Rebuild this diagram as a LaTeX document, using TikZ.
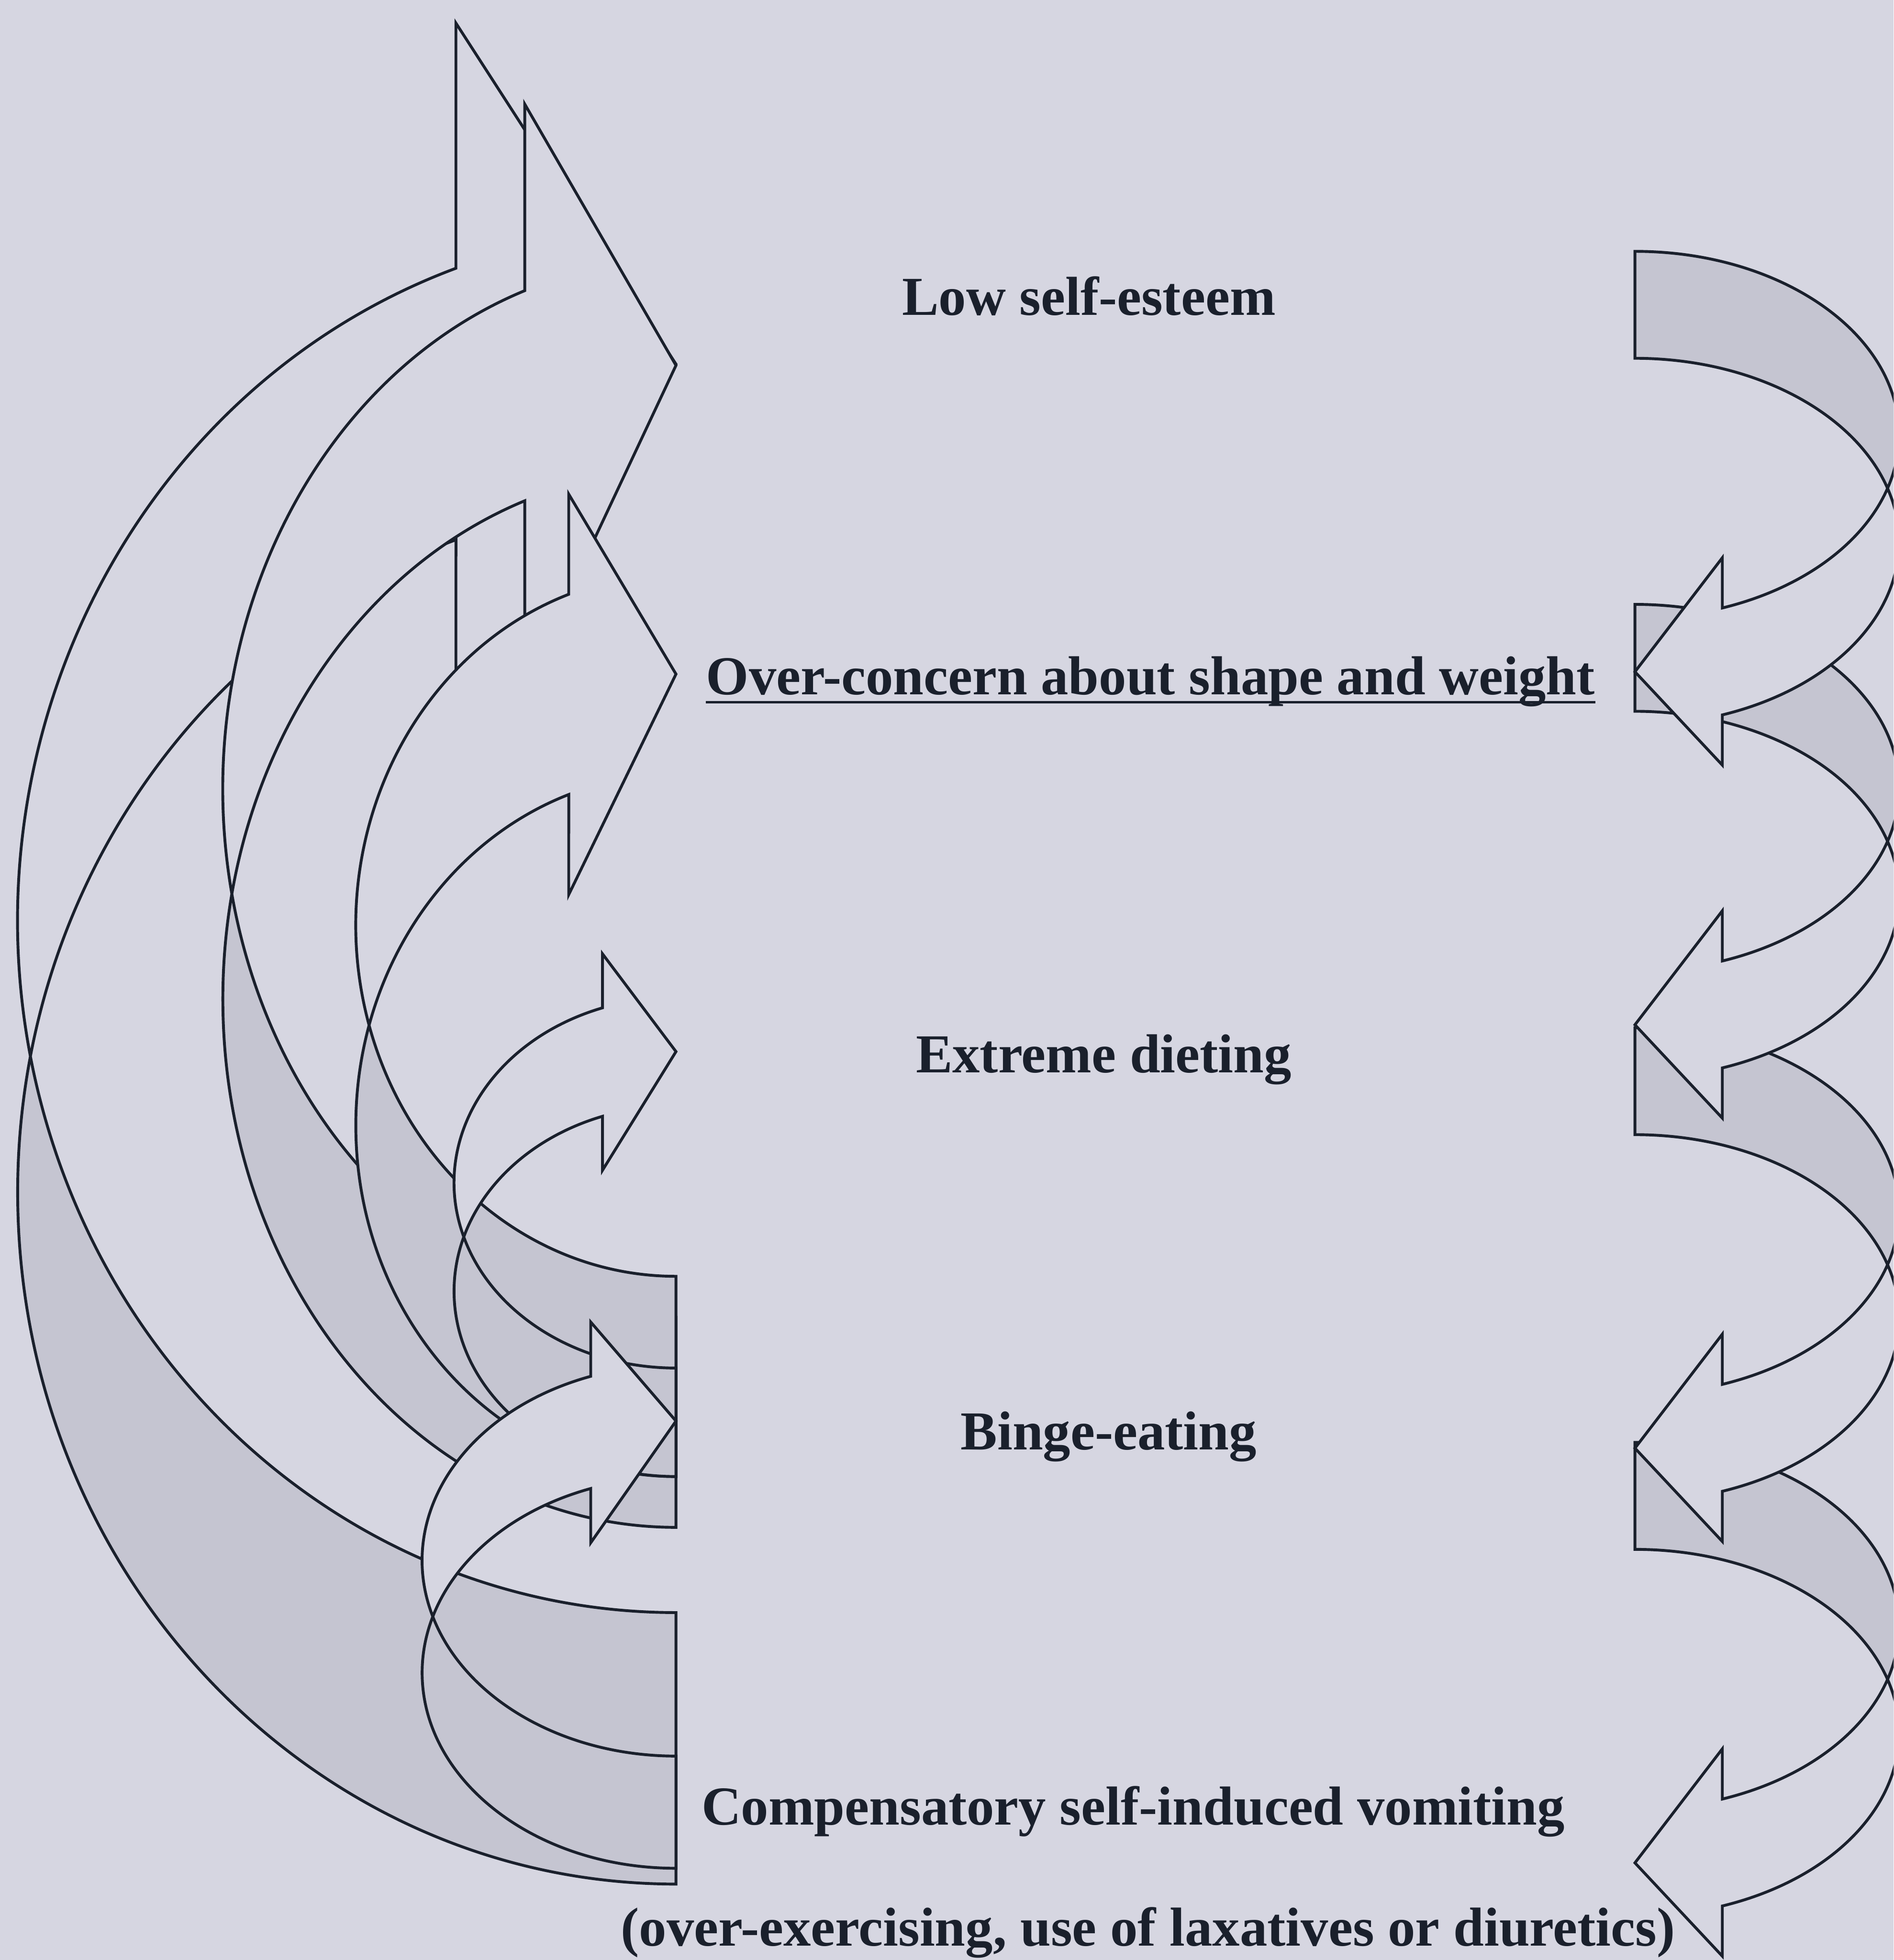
\documentclass[tikz,border=0pt]{standalone}
\usepackage{fontspec}
\setmainfont{Liberation Serif}
\usepackage{tikz}
\usetikzlibrary{positioning}

\definecolor{paper}{RGB}{214,214,225}
\definecolor{shade}{RGB}{197,197,209}
\definecolor{ink}{RGB}{26,32,44}

% curved block arrow, tail corner at the origin; #1 width, #2 half height,
% #3 thickness, #4 head length, #5 head overhang
\newcommand{\loopArrow}[5]{%
  \pgfmathsetmacro{\lpCross}{asin(#3/(2*#2))}%
  \pgfmathsetmacro{\lpHead}{acos(#4/#1)}%
  \pgfmathsetmacro{\lpYa}{#2+#2*sin(\lpHead)}%
  \pgfmathsetmacro{\lpYb}{\lpYa+#3}%
  \pgfmathsetmacro{\lpTip}{2*#2+#3/2}%
  \fill[backface] (0,0)
    arc[start angle=-90, end angle=\lpCross, x radius=#1, y radius=#2]
    arc[start angle=-\lpCross, end angle=-90, x radius=#1, y radius=#2] -- cycle;
  \fill[frontface] (0,\lpTip) -- (#4,\lpYa-#5) -- (#4,\lpYa)
    arc[start angle=\lpHead, end angle=\lpCross, x radius=#1, y radius=#2]
    arc[start angle=-\lpCross, end angle=\lpHead, x radius=#1, y radius=#2]
    -- (#4,\lpYb+#5) -- cycle;
  \draw[rim] (0,0)
    arc[start angle=-90, end angle=\lpHead, x radius=#1, y radius=#2]
    -- (#4,\lpYa-#5) -- (0,\lpTip) -- (#4,\lpYb+#5) -- (#4,\lpYb)
    arc[start angle=\lpHead, end angle=-90, x radius=#1, y radius=#2] -- cycle;
}

\begin{document}
\begin{tikzpicture}[x=0.5cm, y=-0.5cm,
    stage/.style={font=\fontsize{25.2}{30}\selectfont\bfseries, text=ink,
                  inner sep=0pt, anchor=base},
    backface/.style={fill=shade},
    frontface/.style={fill=paper},
    rim/.style={draw=ink, line width=1.3pt, line join=miter}
  ]
  \useasboundingbox (0,0) rectangle (61.10,63.24);
  \clip (0,0) rectangle (61.10,63.24);
  \fill[paper] (0,0) rectangle (61.10,63.24);

  % feedback arrows on the left
  \begin{scope}[shift={(21.81,60.79)}, rotate=180]
    \loopArrow{21.24}{22.33}{8.76}{7.10}{7.91}
  \end{scope}
  \begin{scope}[shift={(21.81,49.28)}, rotate=180]
    \loopArrow{14.62}{17.05}{6.78}{4.88}{6.02}
  \end{scope}
  \begin{scope}[shift={(21.81,47.64)}, rotate=180]
    \loopArrow{10.33}{11.33}{6.46}{3.46}{3.23}
  \end{scope}
  \begin{scope}[shift={(21.81,47.64)}, rotate=180]
    \loopArrow{7.16}{5.98}{3.50}{2.37}{1.74}
  \end{scope}
  \begin{scope}[shift={(21.81,60.28)}, rotate=180]
    \loopArrow{8.19}{6.31}{3.62}{2.75}{1.75}
  \end{scope}

  \foreach \ytail in {46.54,33.16,19.50,8.11} {
    \begin{scope}[shift={(52.75,\ytail)}]
      \loopArrow{8.52}{5.92}{3.45}{2.82}{1.62}
    \end{scope}
  }

  \node[stage] (low) at (35.13,10.16) {Low self-esteem};
  \node[stage] (concern) at (37.12,22.41) {Over-concern about shape and weight};
  \draw[ink, line width=1.2pt] ([yshift=-3.5pt]concern.base west)
    -- ([yshift=-3.5pt]concern.base east);
  \node[stage] (dieting) at (35.61,34.60) {Extreme dieting};
  \node[stage] (binge) at (35.77,46.78) {Binge-eating};
  \node[stage] (vomit) at (36.56,58.88) {Compensatory self-induced vomiting};
  \node[stage] (exer) at (37.04,62.78)
    {(over-exercising, use of laxatives or diuretics)};
\end{tikzpicture}
\end{document}
